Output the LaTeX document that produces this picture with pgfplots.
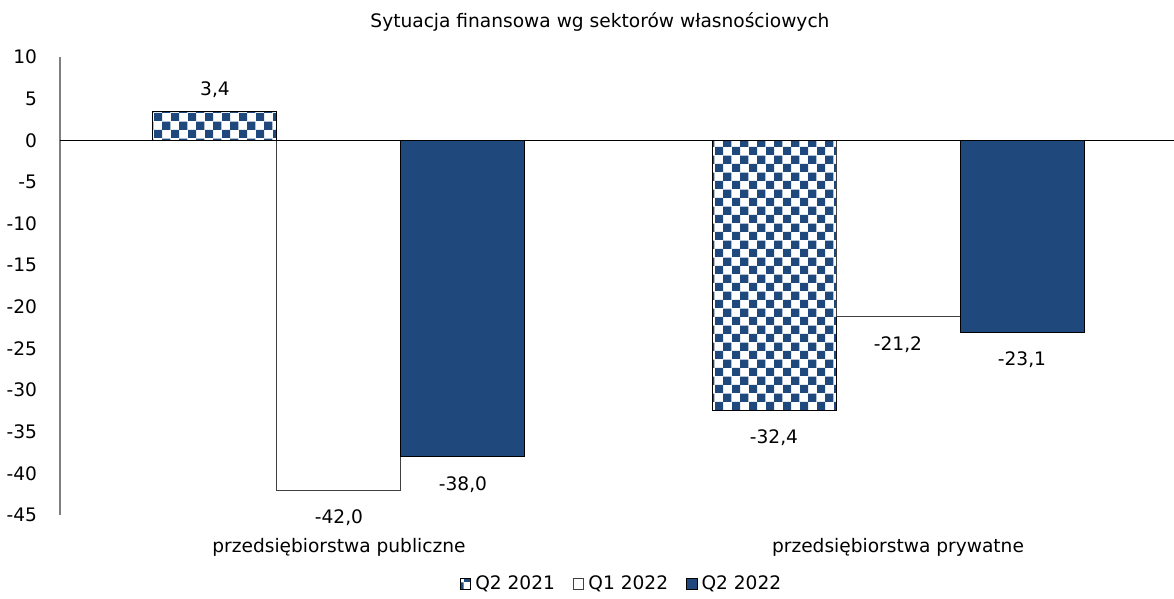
\documentclass[border=0pt]{standalone}
\usepackage{fontspec}
\setmainfont{DejaVu Sans}
\usepackage{pgfplots}
\pgfplotsset{compat=1.18}
\usetikzlibrary{patterns}
\definecolor{barblue}{RGB}{31,73,125}
\pgfdeclarepatternformonly{bigchecker}{\pgfpointorigin}{\pgfqpoint{8.6pt}{8.6pt}}{\pgfqpoint{8.6pt}{8.6pt}}{%
  \pgfpathrectangle{\pgfpointorigin}{\pgfqpoint{4.3pt}{4.3pt}}%
  \pgfpathrectangle{\pgfqpoint{4.3pt}{4.3pt}}{\pgfqpoint{4.3pt}{4.3pt}}%
  \pgfusepath{fill}}
\newcommand{\fs}{\fontsize{9.3}{11}\selectfont}
\begin{document}
\begin{tikzpicture}
\path[use as bounding box] (0,0) rectangle (587pt,-299.5pt);
\begin{axis}[
  at={(30pt,-257.5pt)}, anchor=south west,
  scale only axis, width=557pt, height=229pt,
  ybar=0pt, bar width=62pt,
  xmin=-0.499, xmax=1.4937,
  ymin=-45, ymax=10,
  ytick={-45,-40,-35,-30,-25,-20,-15,-10,-5,0,5,10},
  yticklabels={-45,-40,-35,-30,-25,-20,-15,-10,-5,0,5,10},
  xtick={0,1},
  xticklabels={przedsiębiorstwa publiczne, przedsiębiorstwa prywatne},
  axis lines*=left,
  x axis line style={draw=none},
  y axis line style={draw=gray, line width=0.6pt, -},
  major tick length=0pt,
  yticklabel style={anchor=east, xshift=-8pt, font=\fs},
  xticklabel style={anchor=north, yshift=-8pt, font=\fs},
  /pgf/number format/assume math mode=true,
  clip=false,
  nodes near coords,
  nodes near coords align={vertical},
  every node near coord/.append style={font=\fs, inner xsep=2pt, inner ysep=8.25pt, yshift=-1.25pt, text=black,
    /pgf/number format/.cd, fixed, fixed zerofill, precision=1, use comma, assume math mode=true},
  title={Sytuacja finansowa wg sektorów własnościowych},
  title style={at={(0.4847,1.0764)}, anchor=center, yshift=-6pt, font=\fs},
  legend columns=3,
  legend style={at={(0.505,-0.151)}, anchor=center, draw=none, fill=none,
    font=\fs,
    /tikz/every even column/.append style={column sep=7pt}},
  legend image code/.code={\draw[#1, line width=0.5pt] (0pt,-2.6pt) rectangle (5.2pt,2.6pt);},
]
\addplot[draw=black, line width=0.5pt, pattern=bigchecker, pattern color=barblue] coordinates {(0,3.4) (1,-32.4)};
\addplot[draw=black!75, line width=0.5pt, fill=white] coordinates {(0,-42.0) (1,-21.2)};
\addplot[draw=black, line width=0.5pt, fill=barblue] coordinates {(0,-38.0) (1,-23.1)};
\legend{Q2 2021, Q1 2022, Q2 2022}
\draw[black, line width=0.7pt] (axis cs:-0.499,0) -- (axis cs:1.4937,0);
\end{axis}
\end{tikzpicture}
\end{document}
